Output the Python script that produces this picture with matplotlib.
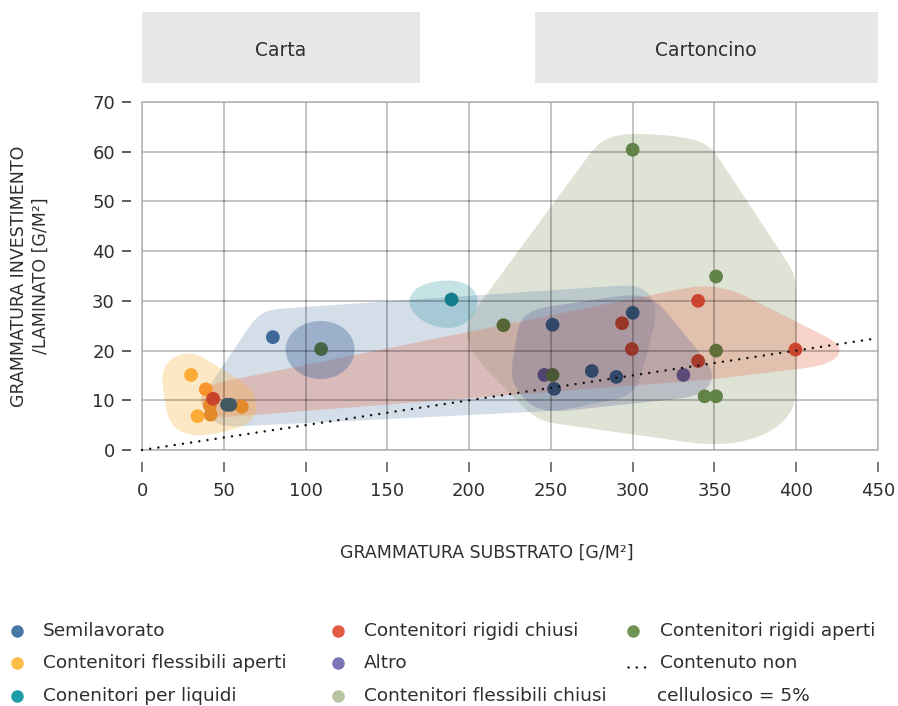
import numpy as np
import matplotlib
matplotlib.use("Agg")
import matplotlib.pyplot as plt
from matplotlib.patches import Polygon, Rectangle
from matplotlib.path import Path
import matplotlib.transforms as mtransforms
from matplotlib.colors import to_rgb

plt.rcParams['font.family'] = ['DejaVu Sans']

# ---------------- data ----------------
semilavorato_x = [52, 54, 80, 251, 252, 275, 290, 300]
semilavorato_y = [9.1, 9.1, 22.7, 25.2, 12.3, 15.9, 14.7, 27.6]

flex_aperti_x = [30, 39, 41.5, 34, 42, 61]
flex_aperti_y = [15.1, 12.2, 9.0, 6.8, 7.1, 8.7]

liquidi_x = [189]
liquidi_y = [30.4]

rigidi_chiusi_x = [43.5, 293.5, 299.5, 340, 340, 399.5]
rigidi_chiusi_y = [10.3, 25.5, 20.3, 30.0, 17.9, 20.2]

altro_x = [246, 331]
altro_y = [15.1, 15.1]

flex_chiusi_x = []
flex_chiusi_y = []

rigidi_aperti_x = [109.5, 221, 251, 300, 351, 351, 344, 351]
rigidi_aperti_y = [20.3, 25.1, 15.1, 60.4, 34.9, 20.0, 10.8, 10.8]

series_labels = ['Semilavorato', 'Contenitori flessibili aperti', 'Conenitori per liquidi',
                 'Contenitori rigidi chiusi', 'Altro', 'Contenitori flessibili chiusi',
                 'Contenitori rigidi aperti']
series_keys = ['semi', 'flexa', 'liq', 'rigc', 'altro', 'flexc', 'riga']
series_data = {
    'semi': (semilavorato_x, semilavorato_y),
    'flexa': (flex_aperti_x, flex_aperti_y),
    'liq': (liquidi_x, liquidi_y),
    'rigc': (rigidi_chiusi_x, rigidi_chiusi_y),
    'altro': (altro_x, altro_y),
    'flexc': (flex_chiusi_x, flex_chiusi_y),
    'riga': (rigidi_aperti_x, rigidi_aperti_y),
}
line_label = ['Contenuto non', 'cellulosico = 5%']
non_cellulosic_share = 0.05

facet_labels = ['Carta', 'Cartoncino']
facet_start = [0, 240]
facet_end = [170, 450]

x_ticks = [0, 50, 100, 150, 200, 250, 300, 350, 400, 450]
y_ticks = [0, 10, 20, 30, 40, 50, 60, 70]

# ---------------- style ----------------
colors = {
    'semi': '#4a78a6', 'flexa': '#fdbb47', 'liq': '#1e9da6', 'rigc': '#e35b43',
    'altro': '#7b73b8', 'flexc': '#b6c4a2', 'riga': '#6f9354',
}
TXT = '#2e2e2e'
W, H = 898, 706

# blobs: (series keys, facet index or None, pads L,R,T,B in px, color, alpha)
blobs = [
    (['riga'], 1, (38, 80, 16, 48), '#8a9a6a', 0.27),
    (['semi'], None, (24, 24, 28, 22), '#4a78a6', 0.24),
    (['rigc'], None, (14, 48, 15, 19), '#e8704f', 0.30),
    (['flexa'], None, (30, 16, 23, 20), '#fbb445', 0.30),
    (['liq'], None, (44, 28, 19, 30), '#2a95a0', 0.27),
    (['riga'], 0, (37, 35, 29, 31), '#4a6aa0', 0.40),
    (['semi', 'altro'], 1, (34, 31, 18, 23), '#5f5f96', 0.28),
]
SMOOTH_PX = 9

fig = plt.figure(figsize=(W / 100, H / 100), dpi=100)
ax = fig.add_axes([142 / W, (H - 450) / H, (878 - 142) / W, (450 - 102) / H])
ax.set_xlim(0, 450)
ax.set_ylim(0, 70)
ax.set_xticks(x_ticks)
ax.set_yticks(y_ticks)
ax.set_axisbelow('line')
ax.grid(True, color='k', alpha=0.3, lw=1.1)
for s in ax.spines.values():
    s.set_visible(False)
ax.spines['left'].set_position(('outward', 8))
ax.spines['bottom'].set_position(('outward', 8.8))
ax.tick_params(axis='y', length=6.5, width=1.1, pad=5, color='#333333',
               labelsize=13, labelcolor=TXT)
ax.tick_params(axis='x', length=7.2, width=1.1, pad=7, color='#555555',
               labelsize=13, labelcolor=TXT)
ax.add_patch(Rectangle((0, 0), 1, 1, transform=ax.transAxes, fill=False,
                       ec='#b3b3b3', lw=1.1, zorder=1.6, clip_on=False))


def convex_hull(pts):
    pts = sorted(set(map(tuple, np.round(pts, 4))))
    def cross(o, a, b):
        return (a[0] - o[0]) * (b[1] - o[1]) - (a[1] - o[1]) * (b[0] - o[0])
    lower, upper = [], []
    for p in pts:
        while len(lower) >= 2 and cross(lower[-2], lower[-1], p) <= 0:
            lower.pop()
        lower.append(p)
    for p in reversed(pts):
        while len(upper) >= 2 and cross(upper[-2], upper[-1], p) <= 0:
            upper.pop()
        upper.append(p)
    return np.array(lower[:-1] + upper[:-1])


def smooth_closed(P, sigma_px, n=600):
    Q = np.vstack([P, P[:1]])
    seg = np.hypot(*np.diff(Q, axis=0).T)
    cum = np.concatenate([[0], np.cumsum(seg)])
    total = cum[-1]
    t = np.linspace(0, total, n, endpoint=False)
    x = np.interp(t, cum, Q[:, 0])
    y = np.interp(t, cum, Q[:, 1])
    step = total / n
    sig = max(sigma_px / step, 0.5)
    half = int(4 * sig) + 1
    k = np.exp(-0.5 * (np.arange(-half, half + 1) / sig) ** 2)
    k /= k.sum()
    def circ(v):
        vv = np.concatenate([v[-half:], v, v[:half]])
        return np.convolve(vv, k, mode='valid')
    return np.column_stack([circ(x), circ(y)])


def facet_of(x):
    mids = [(a + b) / 2 for a, b in zip(facet_start, facet_end)]
    return int(np.argmin([abs(x - m) for m in mids]))


scale = fig.dpi / 100.0
blob_paths = []
for keys, facet, pads, col, alpha in blobs:
    xs, ys = [], []
    for k in keys:
        for x, y in zip(*series_data[k]):
            if facet is None or facet_of(x) == facet:
                xs.append(x); ys.append(y)
    disp = ax.transData.transform(np.column_stack([xs, ys]))
    L, R, T, B = [p * scale for p in pads]
    th = np.linspace(0, 2 * np.pi, 72, endpoint=False)
    c, s = np.cos(th), np.sin(th)
    off = np.column_stack([np.where(c >= 0, R, L) * c, np.where(s >= 0, T, B) * s])
    cloud = (disp[:, None, :] + off[None, :, :]).reshape(-1, 2)
    hull = smooth_closed(convex_hull(cloud), SMOOTH_PX * scale)
    blob_paths.append((Path(hull), to_rgb(col), alpha))
    data_poly = ax.transData.inverted().transform(hull)
    ax.add_patch(Polygon(data_poly, closed=True, fc=col, alpha=alpha, ec='none', zorder=1))

# points with multiply-like blending
r_px = 6.8 * scale
drawn = []
for k in ['flexa', 'semi', 'liq', 'rigc', 'altro', 'flexc', 'riga']:
    xs, ys = series_data[k]
    if len(xs) == 0:
        continue
    base = np.array(to_rgb(colors[k]))
    cols = []
    for x, y in zip(xs, ys):
        d = ax.transData.transform((x, y))
        bg = np.ones(3)
        for path, bc, a in blob_paths:
            if path.contains_point(d):
                bg = a * np.array(bc) + (1 - a) * bg
        for pd, pc in drawn:
            if np.hypot(*(pd - d)) < r_px:
                bg = bg * pc
        cols.append(np.clip(base * bg, 0, 1))
    for x, y, cc in zip(xs, ys, cols):
        drawn.append((ax.transData.transform((x, y)), cc))
    ax.scatter(xs, ys, s=98, c=cols, linewidths=0, zorder=3)

line_x = np.array([0, 450])
ax.plot(line_x, non_cellulosic_share * line_x, color='#111111', lw=1.8,
        linestyle=(0, (0.01, 3.3)), dash_capstyle='round', zorder=4, clip_on=False)

ax.set_xlabel('GRAMMATURA SUBSTRATO [G/M²]', fontsize=12.5, color=TXT, va='center')
ax.xaxis.set_label_coords((487 - 142) / 736, -(553 - 450) / 348)
ax.set_ylabel('GRAMMATURA INVESTIMENTO\n/LAMINATO [G/M²]', fontsize=12.5, color=TXT,
              va='center', linespacing=1.3)
ax.yaxis.set_label_coords(-(142 - 30) / 736, 0.5)

# facet header boxes
btr = mtransforms.blended_transform_factory(ax.transData, fig.transFigure)
for lab, a, b in zip(facet_labels, facet_start, facet_end):
    fig.patches.append(Rectangle((a, 1 - 83 / H), b - a, 71 / H, transform=btr,
                                 fc='#e6e7e9', ec='none', figure=fig))
    fig.text((a + b) / 2, 1 - 50 / H, lab, transform=btr, ha='center', va='center',
             fontsize=13.5, color=TXT)

# legend
ov = fig.add_axes([0, 0, 1, 1])
ov.set_xlim(0, W)
ov.set_ylim(H, 0)
ov.axis('off')
col_mx = [17, 338, 633]
col_tx = [43, 364, 660]
row_y = [631, 663, 696]
for i, (k, lab) in enumerate(zip(series_keys, series_labels)):
    cidx, ridx = i // 3, i % 3
    ov.plot([col_mx[cidx]], [row_y[ridx]], 'o', ms=9, color=colors[k], mec='none')
    ov.text(col_tx[cidx], row_y[ridx], lab, ha='left', va='center', fontsize=13.3, color=TXT)
ov.plot([628, 647], [667, 667], color='#111111', lw=1.8, linestyle=(0, (0.01, 3.3)),
        dash_capstyle='round')
ov.text(col_tx[2], row_y[1], line_label[0], ha='left', va='center', fontsize=13.3, color=TXT)
ov.text(col_tx[2] - 3, row_y[2], line_label[1], ha='left', va='center', fontsize=13.3, color=TXT)

fig.savefig('out.png', dpi=100)
